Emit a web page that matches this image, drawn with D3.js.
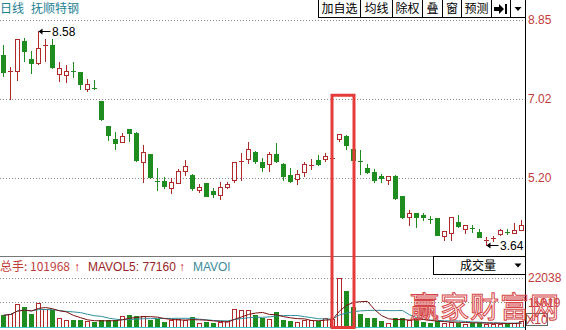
<!DOCTYPE html>
<html><head><meta charset="utf-8">
<script src="https://cdn.jsdelivr.net/npm/d3@7"></script>
<style>
html,body{margin:0;padding:0;background:#fff;overflow:hidden;}
svg{display:block;}
text{font-family:"Liberation Sans",Arial,"Noto Sans CJK SC",sans-serif;}
.cjk{font-family:"Noto Sans CJK SC","Liberation Sans",sans-serif;}
</style></head><body>
<svg id="chart" width="566" height="330"></svg>
<script>
// Daily candles for 抚顺特钢 (oldest first)
const openP  = [8.04,7.64,7.66,8.35,7.94,7.84,8.23,8.27,7.58,7.56,7.66,7.64,7.25,7.26,6.96,6.38,6.08,6.03,6.31,6.23,
                5.56,5.74,5.13,5.12,4.95,5.08,5.35,5.25,4.91,5.08,4.88,4.79,4.98,5.15,5.57,5.62,5.78,5.55,5.52,5.74,
                5.52,5.25,5.16,5.33,5.48,5.60,5.62,5.62,6.08,6.15,5.85,5.58,5.41,5.33,5.23,5.15,5.23,4.77,4.28,4.37,
                4.33,4.24,4.26,3.85,3.92,4.18,4.00,4.03,3.95,3.75,3.78,3.89,3.95,3.92,3.99];
const highP  = [8.25,7.75,8.41,8.42,8.13,8.58,8.41,8.41,7.86,7.79,7.86,7.64,7.48,7.46,6.96,6.38,6.24,6.22,6.31,6.25,
                5.95,5.74,5.43,5.21,5.18,5.39,5.60,5.28,5.06,5.08,4.95,5.09,5.10,5.56,5.77,6.01,5.81,5.64,5.78,6.00,
                5.53,5.43,5.37,5.56,5.62,5.71,5.77,5.70,6.20,6.18,5.93,5.83,5.51,5.39,5.28,5.24,5.25,4.78,4.46,4.38,
                4.37,4.31,4.26,3.97,4.28,4.33,4.10,4.10,4.00,3.82,3.85,4.02,4.02,4.14,4.22];
const lowP   = [7.54,7.02,7.46,7.90,7.61,7.83,7.90,7.73,7.44,7.40,7.52,7.25,7.20,7.25,6.53,6.06,5.86,6.03,6.05,5.59,
                5.10,5.20,4.91,4.95,4.85,5.07,5.25,4.91,4.87,4.77,4.75,4.70,4.95,5.10,5.14,5.54,5.54,5.35,5.35,5.56,
                5.15,5.10,5.04,5.23,5.39,5.50,5.58,5.58,6.04,5.85,5.59,5.29,5.31,5.10,5.10,5.05,4.71,4.27,4.10,4.05,
                4.22,4.15,3.87,3.75,3.75,4.06,3.91,3.95,3.82,3.64,3.74,3.87,3.89,3.91,3.98];
const closeP = [7.64,7.65,8.41,8.13,7.84,8.20,8.27,7.75,7.73,7.67,7.64,7.35,7.35,7.25,6.54,6.19,6.00,6.15,6.23,5.60,
                5.78,5.21,5.12,5.01,5.09,5.35,5.46,4.95,4.97,4.78,4.82,4.98,5.06,5.56,5.58,5.85,5.58,5.45,5.74,5.58,
                5.23,5.12,5.27,5.51,5.49,5.51,5.69,5.64,6.20,5.95,5.60,5.57,5.33,5.14,5.18,5.23,4.72,4.28,4.37,4.28,
                4.28,4.23,3.87,3.96,4.28,4.08,4.10,4.02,3.83,3.76,3.80,3.99,3.94,3.99,4.10];
// Volume, in units of 10 lots (X10)
const volume = [5220,5930,10130,8790,5670,10840,7900,7450,4150,3260,2990,2990,2540,2230,2990,2990,3260,4770,5490,4770,
                4770,3260,3700,2230,2990,3430,3260,4460,1780,2230,1780,2230,2680,8160,7450,7450,5220,4150,3700,6690,
                3260,2680,2230,3260,2990,2680,4150,3500,22038,15930,9000,5930,4010,4010,2540,1920,4010,4010,2990,3430,
                2230,1920,2540,1920,2230,1920,1470,1780,1920,1470,1470,1470,1470,1920,2540];

const priceTicks = [5.20, 7.02, 8.85];
const volTicks = [11019, 22038];
const toolbarLabels = ["加自选", "均线", "除权", "叠", "窗", "预测"];
const toolbarEdges = [318.5, 360.5, 392.5, 422.5, 442.5, 461.5, 491.5, 510.5, 525.5];

const UP = "#b02a2a", DOWN = "#1f8c1f", AXIS_TXT = "#c23b3b", GRID = "#8a8a8a";
const n = closeP.length;
const svg = d3.select("#chart");
const plotRight = 525;

const x = d3.scaleBand().domain(d3.range(n)).range([0, plotRight]).paddingInner(2/7).paddingOuter(1/7);
const cx = i => x(i) + x.bandwidth() / 2;
const y = d3.scaleLinear().domain([5.20, 8.85]).range([177.5, 19.5]);
const yv = d3.scaleLinear().domain([0, 22038]).range([327, 277.5]);

// ---- title & toolbar ----
svg.append("text").attr("class","cjk").attr("x",0).attr("y",9).attr("dy","0.35em")
  .attr("font-size",12).attr("fill","#1e8090").text("日线");
svg.append("text").attr("class","cjk").attr("x",31).attr("y",9).attr("dy","0.35em")
  .attr("font-size",12).attr("fill","#1e8090").text("抚顺特钢");

const tb = svg.append("g");
tb.append("rect").attr("x",toolbarEdges[0]).attr("y",-1).attr("width",toolbarEdges[8]-toolbarEdges[0]).attr("height",18.5)
  .attr("fill","#fff").attr("stroke","#000");
toolbarEdges.slice(1,-1).forEach(e => tb.append("line").attr("x1",e).attr("x2",e).attr("y1",0).attr("y2",17.5).attr("stroke","#000"));
toolbarLabels.forEach((t,k) => {
  tb.append("text").attr("class","cjk").attr("x",(toolbarEdges[k]+toolbarEdges[k+1])/2).attr("y",9).attr("dy","0.35em")
    .attr("text-anchor","middle").attr("font-size",12).attr("fill","#000").text(t);
});
// jump-to-end icon and dropdown arrow
tb.append("path").attr("d","M494,7 h5 v-3 l5,5 l-5,5 v-3 h-5 z").attr("fill","#000");
tb.append("rect").attr("x",505).attr("y",4).attr("width",2).attr("height",10).attr("fill","#000");
tb.append("path").attr("d","M514.5,7 h7 l-3.5,4 z").attr("fill","#000");

// ---- grid lines ----
const g = svg.append("g");
priceTicks.forEach(p => g.append("line").attr("x1",0).attr("x2",plotRight).attr("y1",Math.round(y(p))+0.5).attr("y2",Math.round(y(p))+0.5)
  .attr("stroke",GRID).attr("stroke-dasharray","1,2"));
volTicks.forEach(v => g.append("line").attr("x1",0).attr("x2",plotRight).attr("y1",Math.round(yv(v))+0.5).attr("y2",Math.round(yv(v))+0.5)
  .attr("stroke",GRID).attr("stroke-dasharray","1,2"));

// panel separator & axis line
svg.append("line").attr("x1",0).attr("x2",plotRight).attr("y1",256.5).attr("y2",256.5).attr("stroke","#777");
svg.append("line").attr("x1",plotRight+0.5).attr("x2",plotRight+0.5).attr("y1",0).attr("y2",330).attr("stroke","#000");

// right axis labels
const axP = d3.axisRight(y).tickValues(priceTicks).tickSize(0).tickPadding(3).tickFormat(d3.format(".2f"));
const axPg = svg.append("g").attr("transform",`translate(${plotRight},0)`).call(axP);
axPg.select(".domain").remove();
axPg.selectAll("text").attr("font-size",12).attr("fill",AXIS_TXT).attr("font-family","Liberation Sans, Arial, sans-serif");
const axV = d3.axisRight(yv).tickValues(volTicks).tickSize(0).tickPadding(3).tickFormat(d3.format("d"));
const axVg = svg.append("g").attr("transform",`translate(${plotRight},0)`).call(axV);
axVg.select(".domain").remove();
axVg.selectAll("text").attr("font-size",12).attr("fill",AXIS_TXT).attr("font-family","Liberation Sans, Arial, sans-serif");

// X10 unit box
svg.append("rect").attr("x",526.5).attr("y",313.5).attr("width",21).attr("height",12).attr("fill","#fff").attr("stroke","#666");
svg.append("text").attr("x",537).attr("y",319.5).attr("dy","0.35em").attr("text-anchor","middle")
  .attr("font-size",12).attr("fill",AXIS_TXT).text("X10");

// ---- candles ----
const cg = svg.append("g");
d3.range(n).forEach(i => {
  const o = openP[i], c = closeP[i], up = c >= o, col = up ? UP : DOWN;
  const top = Math.round(y(Math.max(o,c))), bot = Math.round(y(Math.min(o,c)));
  cg.append("line").attr("x1",cx(i)).attr("x2",cx(i)).attr("y1",Math.round(y(highP[i]))).attr("y2",Math.round(y(lowP[i]))+1)
    .attr("stroke",col);
  if (bot - top < 2) {
    cg.append("rect").attr("x",x(i)).attr("y",top).attr("width",x.bandwidth()).attr("height",1).attr("fill",col);
  } else if (up) {
    cg.append("rect").attr("x",x(i)+0.5).attr("y",top+0.5).attr("width",x.bandwidth()-1).attr("height",bot-top)
      .attr("fill","#fff").attr("stroke",col);
  } else {
    cg.append("rect").attr("x",x(i)).attr("y",top).attr("width",x.bandwidth()).attr("height",bot-top+1).attr("fill",col);
  }
});

// highest / lowest markers
function marker(i, price) {
  const px = cx(i), py = Math.round(y(price)) + 0.5;
  cg.append("line").attr("x1",px+3).attr("x2",px+12).attr("y1",py).attr("y2",py).attr("stroke","#000");
  cg.append("path").attr("d",`M${px},${py} l4,-3 v6 z`).attr("fill","#000");
  cg.append("text").attr("x",px+13.5).attr("y",py).attr("dy","0.36em").attr("font-size",12).attr("fill","#000")
    .text(d3.format(".2f")(price));
}
const iMax = d3.maxIndex(highP), iMin = d3.minIndex(lowP);
marker(iMax, highP[iMax]);
marker(iMin, lowP[iMin]);

// ---- volume panel ----
const vg = svg.append("g");
d3.range(n).forEach(i => {
  const up = closeP[i] >= openP[i], col = up ? UP : DOWN;
  const top = Math.round(yv(volume[i])), base = Math.round(yv(0));
  if (up) {
    vg.append("rect").attr("x",x(i)+0.5).attr("y",top+0.5).attr("width",x.bandwidth()-1).attr("height",base-top)
      .attr("fill","#fff").attr("stroke",col);
  } else {
    vg.append("rect").attr("x",x(i)).attr("y",top).attr("width",x.bandwidth()).attr("height",base-top+1).attr("fill",col);
  }
});
const movingAvg = k => volume.map((v,i) => d3.mean(volume.slice(Math.max(0,i-k+1), i+1)));
const maLine = d3.line().x((d,i) => cx(i)).y(d => yv(d));
vg.append("path").attr("d",maLine(movingAvg(10))).attr("fill","none").attr("stroke","#2f8f9c").attr("stroke-width",1);
vg.append("path").attr("d",maLine(movingAvg(5))).attr("fill","none").attr("stroke","#7a1010").attr("stroke-width",1);
svg.append("line").attr("x1",0).attr("x2",plotRight).attr("y1",327.5).attr("y2",327.5).attr("stroke","#3cc6c6");

// volume header
const hd = svg.append("g");
hd.append("text").attr("class","cjk").attr("x",0).attr("y",266.5).attr("dy","0.35em").attr("font-size",12).attr("fill","#c23b3b").text("总手: 101968");
hd.append("text").attr("x",74).attr("y",266.5).attr("dy","0.35em").attr("font-size",12).attr("font-weight","bold").attr("fill","#d42020").text("↑");
hd.append("text").attr("x",88).attr("y",266.5).attr("dy","0.35em").attr("font-size",12).attr("fill","#9a2525").text("MAVOL5: 77160");
hd.append("text").attr("x",179).attr("y",266.5).attr("dy","0.35em").attr("font-size",12).attr("font-weight","bold").attr("fill","#d42020").text("↑");
hd.append("text").attr("x",193).attr("y",266.5).attr("dy","0.35em").attr("font-size",12).attr("fill","#3a8a9a").text("MAVOl");

// indicator selector box
svg.append("rect").attr("x",433.5).attr("y",256.5).attr("width",92).attr("height",18).attr("fill","#fff").attr("stroke","#000");
svg.append("text").attr("class","cjk").attr("x",478).attr("y",266).attr("dy","0.35em").attr("text-anchor","middle")
  .attr("font-size",12).attr("fill","#000").text("成交量");
svg.append("path").attr("d","M514.5,263.5 h7 l-3.5,4 z").attr("fill","#000");

// highlight frame around the volume spike
const hx0 = cx(47), hx1 = cx(50);
svg.append("rect").attr("x",hx0-0.5).attr("y",y(7.10)).attr("width",hx1-hx0+1).attr("height",yv(0)-y(7.10)+0.5)
  .attr("fill","none").attr("stroke","#e63b3b").attr("stroke-width",3);

// site mark, drawn as an outline over the lower panel
svg.append("text").attr("class","cjk").attr("x",410).attr("y",318).attr("font-size",29).attr("letter-spacing",1)
  .attr("fill","none").attr("stroke","#d64545").attr("stroke-width",1).text("赢家财富网");
</script>
</body></html>
